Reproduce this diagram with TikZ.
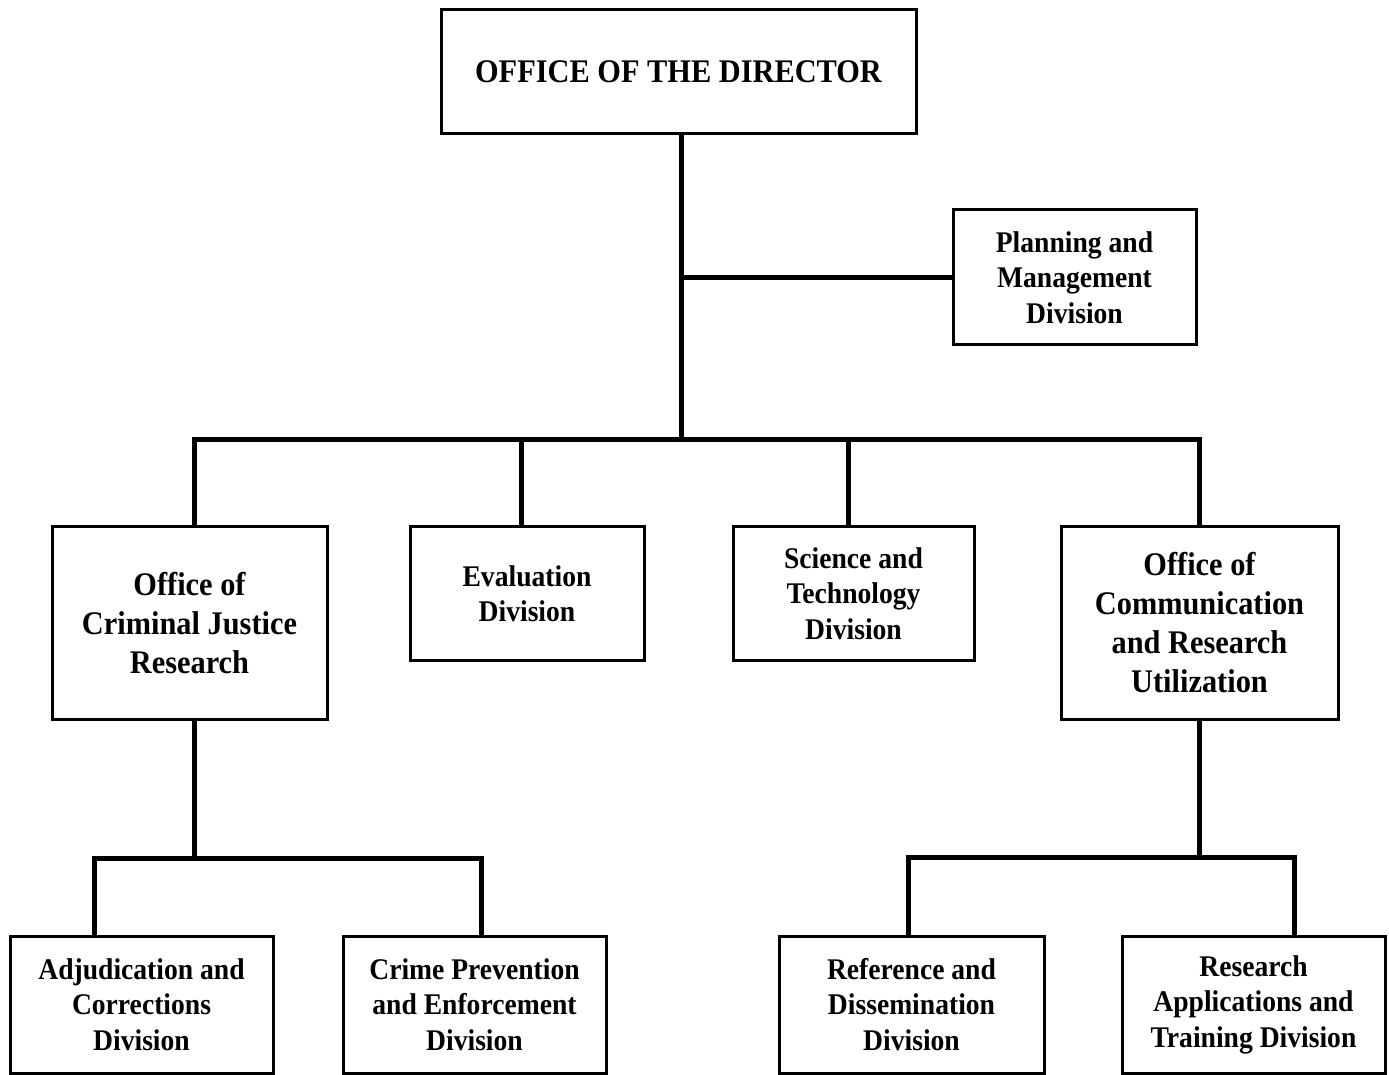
\documentclass[tikz,border=0pt]{standalone}
\usepackage{fontspec}
\setmainfont{Liberation Serif}[FakeStretch=0.92]
\tikzset{
  boxS/.style ={draw=black, line width=1.5pt, fill=white, inner sep=0pt, align=center,
                font=\bfseries\fontsize{15}{17.75}\selectfont},
  bigS/.style ={boxS, font=\bfseries\fontsize{16.5}{19.5}\selectfont},
  dirS/.style ={boxS, font=\bfseries\fontsize{16.5}{19.5}\selectfont},
  linkS/.style={black, line width=2.5pt, line cap=rect},
}

\begin{document}
\begin{tikzpicture}[x=0.5pt, y=-0.5pt]
  \useasboundingbox[fill=white] (0,0) rectangle (1389,1075);
  \node[dirS, minimum width=237.5pt, minimum height=62pt] (dir) at (678.5,72) {OFFICE OF THE DIRECTOR};
  \node[boxS, minimum width=121.5pt, minimum height=67.5pt] (plan) at (1074.5,277.5) {Planning and\\Management\\Division};
  \node[bigS, minimum width=137.5pt, minimum height=96pt] (ocjr) at (189.5,623) {Office of\\Criminal Justice\\Research};
  \node[boxS, minimum width=117pt, minimum height=66.5pt] (eval) at (527,593.5) {Evaluation\\Division};
  \node[boxS, minimum width=120.5pt, minimum height=66.5pt] (sci) at (853.5,593.5) {Science and\\Technology\\Division};
  \node[bigS, minimum width=138.5pt, minimum height=96pt] (ocru) at (1199.5,623) {Office of\\Communication\\and Research\\Utilization};
  \node[boxS, minimum width=131.5pt, minimum height=68.5pt] (adj) at (141.5,1004.5) {Adjudication and\\Corrections\\Division};
  \node[boxS, minimum width=131.5pt, minimum height=68.5pt] (crime) at (474.5,1004.5) {Crime Prevention\\and Enforcement\\Division};
  \node[boxS, minimum width=132.5pt, minimum height=68.5pt] (ref) at (911.5,1004.5) {Reference and\\Dissemination\\Division};
  \node[boxS, minimum width=131.5pt, minimum height=68.5pt] (rat) at (1253.5,1004.5) {Research\\Applications and\\Training Division};

  \coordinate (trunk) at (681,440);
  \draw[linkS] (dir.south -| trunk) -- (trunk);
  \draw[linkS] (trunk |- plan.west) -- (plan.west);
  \foreach \n/\x in {ocjr/194, eval/521, sci/848, ocru/1199} {
    \coordinate (d\n) at (\x,440);
    \draw[linkS] (d\n) -- (d\n |- \n.north);
  }
  \draw[linkS] (docjr) -- (docru);

  \coordinate (jbus) at (194,858);
  \coordinate (jl) at (94,858);  \coordinate (jr) at (481,858);
  \draw[linkS] (ocjr.south -| jbus) -- (jbus);
  \draw[linkS] (jl) -- (jr);
  \draw[linkS] (jl) -- (jl |- adj.north);
  \draw[linkS] (jr) -- (jr |- crime.north);

  \coordinate (cbus) at (1199,857);
  \coordinate (cl) at (908,857);  \coordinate (cr) at (1294,857);
  \draw[linkS] (ocru.south -| cbus) -- (cbus);
  \draw[linkS] (cl) -- (cr);
  \draw[linkS] (cl) -- (cl |- ref.north);
  \draw[linkS] (cr) -- (cr |- rat.north);
\end{tikzpicture}
\end{document}
